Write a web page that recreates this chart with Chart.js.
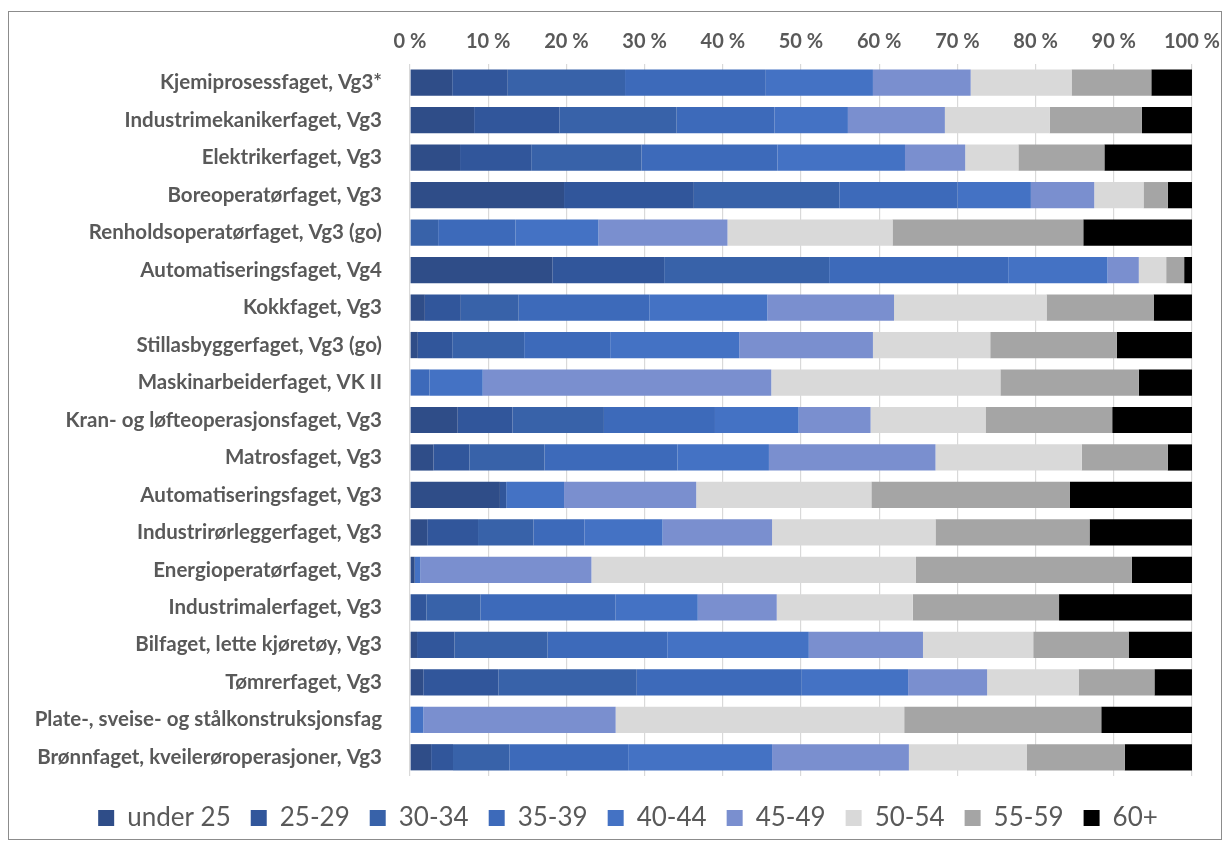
<!DOCTYPE html>
<html>
<head>
<meta charset="utf-8">
<script src="https://cdn.jsdelivr.net/npm/chart.js@4"></script>
<style>
  body { margin: 0; background: #fff; }
  #wrap { position: relative; width: 1230px; height: 845px; }
  #frame { position: absolute; left: 8px; top: 11px; width: 1212px; height: 827px; border: 1.5px solid #8c8c8c; pointer-events: none; }
  canvas { position: absolute; left: 0; top: 0; }
</style>
</head>
<body>
<div id="wrap">
  <canvas id="chart" width="1230" height="845"></canvas>
  <div id="frame"></div>
</div>
<script>
// fag (kategorier)
const fag = [
    "Kjemiprosessfaget, Vg3*",
    "Industrimekanikerfaget, Vg3",
    "Elektrikerfaget, Vg3",
    "Boreoperatørfaget, Vg3",
    "Renholdsoperatørfaget, Vg3 (go)",
    "Automatiseringsfaget, Vg4",
    "Kokkfaget, Vg3",
    "Stillasbyggerfaget, Vg3 (go)",
    "Maskinarbeiderfaget, VK II",
    "Kran- og løfteoperasjonsfaget, Vg3",
    "Matrosfaget, Vg3",
    "Automatiseringsfaget, Vg3",
    "Industrirørleggerfaget, Vg3",
    "Energioperatørfaget, Vg3",
    "Industrimalerfaget, Vg3",
    "Bilfaget, lette kjøretøy, Vg3",
    "Tømrerfaget, Vg3",
    "Plate-, sveise- og stålkonstruksjonsfag",
    "Brønnfaget, kveilerøroperasjoner, Vg3",
];

// andel per aldersgruppe (%)
const under25 = [5.4, 8.2, 6.4, 19.7, 0, 18.2, 1.9, 1.0, 0, 6.1, 3.0, 11.5, 2.2, 0.6, 0, 0.9, 1.7, 0, 2.7];
const a25_29 = [7.1, 10.9, 9.1, 16.6, 0, 14.3, 4.6, 4.4, 0, 7.0, 4.6, 0.8, 6.5, 0, 2.1, 4.8, 9.6, 0, 2.8];
const a30_34 = [15.0, 15.0, 14.1, 18.6, 3.6, 21.1, 7.4, 9.2, 0, 11.7, 9.6, 0, 7.1, 0, 6.9, 11.9, 17.7, 0, 7.2];
const a35_39 = [18.0, 12.5, 17.4, 15.1, 9.9, 22.9, 16.7, 11.0, 2.5, 14.2, 17.0, 0, 6.5, 0, 17.3, 15.3, 21.1, 0, 15.2];
const a40_44 = [13.7, 9.4, 16.3, 9.4, 10.6, 12.7, 15.1, 16.5, 6.8, 10.7, 11.7, 7.4, 10.0, 0.7, 10.5, 18.1, 13.6, 1.7, 18.4];
const a45_49 = [12.5, 12.4, 7.7, 8.1, 16.5, 4.0, 16.2, 17.1, 36.9, 9.2, 21.3, 16.9, 14.0, 21.9, 10.1, 14.6, 10.1, 24.6, 17.5];
const a50_54 = [12.9, 13.4, 6.8, 6.3, 21.1, 3.5, 19.5, 15.0, 29.3, 14.7, 18.7, 22.4, 20.9, 41.5, 17.4, 14.1, 11.7, 36.9, 15.1];
const a55_59 = [10.2, 11.8, 11.0, 3.1, 24.4, 2.3, 13.7, 16.2, 17.7, 16.2, 11.0, 25.4, 19.7, 27.6, 18.7, 12.2, 9.7, 25.2, 12.5];
const a60 = [5.2, 6.4, 11.2, 3.1, 13.9, 1.0, 4.9, 9.6, 6.8, 10.2, 3.1, 15.6, 13.1, 7.7, 17.0, 8.1, 4.8, 11.6, 8.6];

const grupper = ["under 25", "25-29", "30-34", "35-39", "40-44", "45-49", "50-54", "55-59", "60+"];
const serier = [under25, a25_29, a30_34, a35_39, a40_44, a45_49, a50_54, a55_59, a60];
const farger = ["#2f4d88", "#31569b", "#3862a9", "#3d6aba", "#4472c4", "#7a8fcf", "#d9d9d9", "#a5a5a5", "#000000"];

const textColor = "#595959";

// tomme akser som bare holder av plass (flytter forklaringen)
const spacer = (pos, size) => ({
    type: "linear",
    position: pos,
    afterFit: (scale) => {
        if (pos === "bottom") scale.height = size;
        else scale.width = size;
    },
    ticks: { display: false },
    grid: { display: false },
    border: { display: false },
});

new Chart(document.getElementById("chart").getContext("2d"), {
    type: "bar",
    data: {
        labels: fag,
        datasets: serier.map((data, i) => ({
            label: grupper[i],
            data,
            backgroundColor: farger[i],
            borderWidth: 0,
            barPercentage: 1,
            categoryPercentage: 0.7,
        })),
    },
    options: {
        indexAxis: "y",
        responsive: false,
        animation: false,
        layout: { padding: { left: 26, right: 0, top: 20, bottom: 4 } },
        scales: {
            x: {
                position: "top",
                stacked: true,
                min: 0,
                max: 100,
                afterFit: (scale) => { scale.height = 44; },
                ticks: {
                    stepSize: 10,
                    padding: 10,
                    color: textColor,
                    font: { family: "Lato", size: 20, weight: "bold" },
                    callback: (v) => v + " %",
                },
                grid: { color: "#d9d9d9", lineWidth: 1.2, drawTicks: false },
                border: { display: false },
            },
            x2: spacer("bottom", 9),
            y: {
                stacked: true,
                afterFit: (scale) => { scale.width = 384; },
                ticks: {
                    padding: 20,
                    color: textColor,
                    font: { family: "Lato", size: 20.5, weight: "bold" },
                },
                grid: { display: false },
                border: { display: false },
            },
            y2: spacer("right", 37),
        },
        plugins: {
            tooltip: { enabled: false },
            legend: {
                position: "bottom",
                labels: {
                    boxWidth: 16,
                    boxHeight: 16,
                    padding: 20,
                    color: textColor,
                    font: { family: "Lato", size: 26 },
                },
            },
        },
    },
});
</script>
</body>
</html>
